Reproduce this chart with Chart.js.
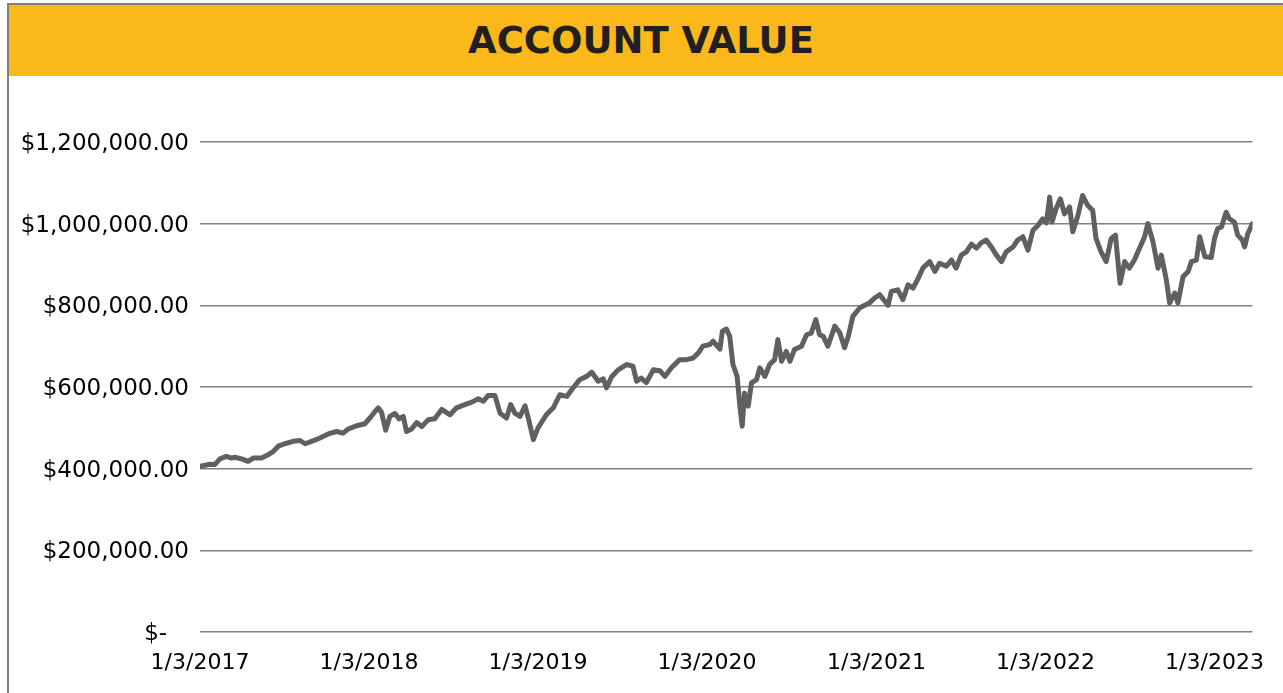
<!DOCTYPE html>
<html>
<head>
<meta charset="utf-8">
<title>Account Value</title>
<script src="https://cdn.jsdelivr.net/npm/chart.js@4.4.0/dist/chart.umd.min.js"></script>
<style>
  html, body { margin: 0; padding: 0; background: #fff; width: 1283px; height: 693px; overflow: hidden; }
  #frame {
    position: absolute; left: 7px; top: 3px; right: -4px; bottom: -4px;
    border-left: 2px solid #7f7f7f; border-top: 2px solid #7f7f7f;
  }
  #header {
    position: absolute; left: 0; top: 0; right: 0; height: 71px;
    background: #fbb81a;
    display: flex; align-items: center; justify-content: center;
    padding-right: 14px; box-sizing: border-box;
    font-family: "DejaVu Sans", sans-serif; font-weight: bold; font-size: 37px;
    color: #231f20;
  }
  #wrap { position: absolute; left: 9px; top: 77px; width: 1274px; height: 616px; }
</style>
</head>
<body>
<div id="frame"><div id="header">ACCOUNT VALUE</div></div>
<div id="wrap"><canvas id="chart"></canvas></div>
<script>
// Account value, every one to two weeks.

const dates = [
  "2017-01-03", "2017-01-25", "2017-02-04", "2017-02-15", "2017-03-01", "2017-03-12", "2017-03-19", "2017-04-03",
  "2017-04-17", "2017-04-28", "2017-05-16", "2017-05-27", "2017-06-10", "2017-06-21", "2017-07-05", "2017-07-23",
  "2017-08-07", "2017-08-18", "2017-09-01", "2017-09-19", "2017-10-07", "2017-10-25", "2017-11-08", "2017-11-19",
  "2017-12-07", "2017-12-25", "2018-01-05", "2018-01-16", "2018-01-23", "2018-01-30", "2018-02-08", "2018-02-17",
  "2018-02-28", "2018-03-09", "2018-03-18", "2018-03-25", "2018-04-05", "2018-04-16", "2018-04-27", "2018-05-11",
  "2018-05-25", "2018-06-09", "2018-06-27", "2018-07-11", "2018-07-29", "2018-08-13", "2018-08-27", "2018-09-07",
  "2018-09-17", "2018-10-02", "2018-10-13", "2018-10-27", "2018-11-05", "2018-11-14", "2018-11-25", "2018-12-06",
  "2018-12-13", "2018-12-24", "2019-01-03", "2019-01-21", "2019-02-05", "2019-02-19", "2019-03-06", "2019-03-20",
  "2019-04-03", "2019-04-18", "2019-04-29", "2019-05-13", "2019-05-24", "2019-05-31", "2019-06-11", "2019-06-25",
  "2019-07-13", "2019-07-27", "2019-08-04", "2019-08-14", "2019-08-25", "2019-09-09", "2019-09-23", "2019-10-04",
  "2019-10-18", "2019-11-05", "2019-11-20", "2019-12-04", "2019-12-15", "2019-12-25", "2020-01-09", "2020-01-16",
  "2020-01-31", "2020-02-05", "2020-02-14", "2020-02-21", "2020-02-28", "2020-03-08", "2020-03-14", "2020-03-19",
  "2020-03-24", "2020-04-01", "2020-04-08", "2020-04-19", "2020-04-26", "2020-05-07", "2020-05-17", "2020-05-28",
  "2020-06-04", "2020-06-12", "2020-06-22", "2020-06-30", "2020-07-10", "2020-07-25", "2020-08-05", "2020-08-15",
  "2020-08-25", "2020-09-02", "2020-09-10", "2020-09-20", "2020-10-05", "2020-10-16", "2020-10-26", "2020-11-03",
  "2020-11-13", "2020-11-28", "2020-12-12", "2020-12-19", "2020-12-30", "2021-01-10", "2021-01-21", "2021-01-28",
  "2021-02-04", "2021-02-18", "2021-03-01", "2021-03-12", "2021-03-23", "2021-04-03", "2021-04-13", "2021-04-28",
  "2021-05-09", "2021-05-19", "2021-06-03", "2021-06-14", "2021-06-24", "2021-07-05", "2021-07-16", "2021-07-27",
  "2021-08-07", "2021-08-17", "2021-08-28", "2021-09-08", "2021-09-19", "2021-09-30", "2021-10-10", "2021-10-25",
  "2021-11-04", "2021-11-15", "2021-11-26", "2021-12-07", "2021-12-18", "2021-12-28", "2022-01-05", "2022-01-12",
  "2022-01-17", "2022-01-26", "2022-02-04", "2022-02-13", "2022-02-24", "2022-03-03", "2022-03-14", "2022-03-24",
  "2022-04-04", "2022-04-15", "2022-04-22", "2022-05-03", "2022-05-14", "2022-05-25", "2022-06-03", "2022-06-13",
  "2022-06-23", "2022-07-03", "2022-07-14", "2022-07-25", "2022-08-05", "2022-08-12", "2022-08-23", "2022-09-03",
  "2022-09-10", "2022-09-21", "2022-09-28", "2022-10-09", "2022-10-16", "2022-10-27", "2022-11-07", "2022-11-14",
  "2022-11-25", "2022-12-02", "2022-12-13", "2022-12-27", "2023-01-03", "2023-01-10", "2023-01-18", "2023-01-28",
  "2023-02-04", "2023-02-15", "2023-02-22", "2023-03-04", "2023-03-09", "2023-03-16", "2023-03-26",
];

const values = [
  406000, 411000, 410000, 424000, 430000, 426000, 428000, 424000,
  418000, 426000, 426000, 432000, 442000, 455000, 461000, 467000,
  469000, 461000, 467000, 475000, 485000, 491000, 487000, 497000,
  505000, 510000, 524000, 540000, 549000, 538000, 494000, 528000,
  535000, 522000, 528000, 491000, 497000, 513000, 503000, 520000,
  522000, 545000, 532000, 549000, 557000, 563000, 571000, 565000,
  579000, 579000, 536000, 524000, 557000, 536000, 528000, 554000,
  524000, 471000, 500000, 532000, 549000, 581000, 577000, 598000,
  618000, 626000, 636000, 614000, 620000, 598000, 625000, 642000,
  655000, 651000, 614000, 622000, 611000, 642000, 640000, 626000,
  647000, 667000, 667000, 671000, 683000, 700000, 704000, 712000,
  693000, 736000, 742000, 724000, 655000, 626000, 553000, 504000,
  585000, 553000, 610000, 618000, 647000, 626000, 655000, 667000,
  716000, 663000, 687000, 663000, 692000, 700000, 728000, 732000,
  765000, 728000, 724000, 700000, 749000, 732000, 696000, 724000,
  773000, 794000, 802000, 806000, 818000, 826000, 810000, 800000,
  834000, 838000, 814000, 850000, 842000, 866000, 891000, 907000,
  883000, 903000, 896000, 911000, 891000, 923000, 931000, 950000,
  940000, 953000, 960000, 943000, 923000, 907000, 931000, 943000,
  960000, 968000, 935000, 984000, 996000, 1012000, 1002000, 1065000,
  1004000, 1037000, 1061000, 1024000, 1041000, 980000, 1020000, 1069000,
  1045000, 1032000, 964000, 931000, 907000, 964000, 972000, 854000,
  907000, 891000, 911000, 940000, 968000, 1000000, 956000, 891000,
  923000, 862000, 806000, 830000, 806000, 870000, 883000, 907000,
  911000, 968000, 919000, 917000, 964000, 988000, 992000, 1028000,
  1012000, 1004000, 972000, 960000, 943000, 976000, 1000000,
];

const xTickLabels = ["1/3/2017", "1/3/2018", "1/3/2019", "1/3/2020", "1/3/2021", "1/3/2022", "1/3/2023"];
const yTicks = [0, 200000, 400000, 600000, 800000, 1000000, 1200000];

const palette = {
  line: "#5f605f",
  grid: "#808080",
  text: "#000000",
};

function parseUsDate(label) {
  const [m, d, y] = label.split("/").map(Number);
  return Date.UTC(y, m - 1, d);
}

function formatMoney(v) {
  if (v === 0) return "$-   ";
  return "$" + v.toLocaleString("en-US", { minimumFractionDigits: 2, maximumFractionDigits: 2 });
}

const points = dates.map((d, i) => ({ x: Date.parse(d), y: values[i] }));
const fontFamily = "'DejaVu Sans', sans-serif";

new Chart(document.getElementById("chart"), {
  type: "line",
  data: {
    datasets: [{
      label: "Account Value",
      data: points,
      borderColor: palette.line,
      borderWidth: 5,
      borderJoinStyle: "round",
      borderCapStyle: "round",
      pointRadius: 0,
      tension: 0,
      fill: false,
    }],
  },
  options: {
    animation: false,
    responsive: true,
    maintainAspectRatio: false,
    layout: { padding: { top: 65, right: 30, left: 0, bottom: 0 } },
    scales: {
      x: {
        type: "linear",
        min: points[0].x,
        max: points[points.length - 1].x,
        grid: { display: false, drawTicks: false },
        border: { display: false },
        afterBuildTicks: (scale) => { scale.ticks = xTickLabels.map((l) => ({ value: parseUsDate(l) })); },
        afterFit: (scale) => { scale.height = 61; },
        ticks: {
          autoSkip: false,
          maxRotation: 0,
          padding: 18,
          color: palette.text,
          font: { family: fontFamily, size: 22 },
          callback: (value, index) => xTickLabels[index],
        },
      },
      y: {
        min: 0,
        max: 1200000,
        grid: { color: palette.grid, lineWidth: 1.5, drawTicks: false },
        border: { display: false },
        afterBuildTicks: (scale) => { scale.ticks = yTicks.map((v) => ({ value: v })); },
        afterFit: (scale) => { scale.width = 191; },
        ticks: {
          padding: 11,
          labelOffset: 2,
          color: palette.text,
          font: { family: fontFamily, size: 23 },
          callback: (value) => formatMoney(value),
        },
      },
    },
    plugins: {
      legend: { display: false },
      tooltip: { enabled: false },
    },
  },
});
</script>
</body>
</html>
